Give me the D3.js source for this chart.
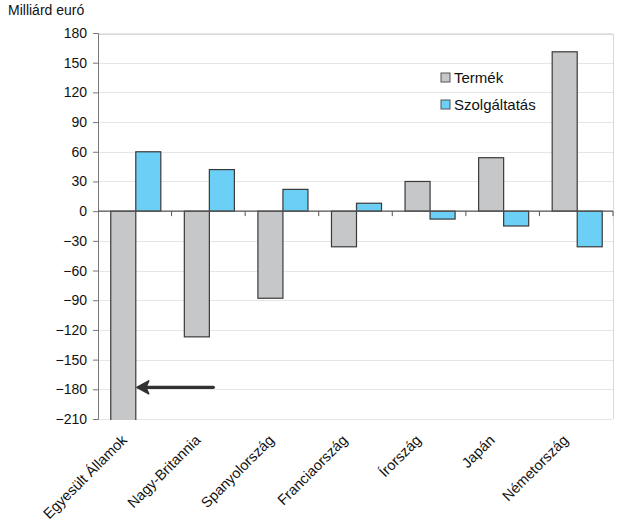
<!DOCTYPE html>
<html><head><meta charset="utf-8">
<script src="https://cdn.jsdelivr.net/npm/d3@7"></script>
<style>body{margin:0;background:#fff;} svg{display:block;font-family:"Liberation Sans",Arial,sans-serif;}</style>
</head><body>
<script>
const categories = ["Egyesült Államok","Nagy-Britannia","Spanyolország","Franciaország","Írország","Japán","Németország"];
const termek = [-240, -127, -88, -36, 30, 54, 161];
const szolg = [60, 42, 22, 8, -8, -15, -36];
const seriesNames = ["Termék","Szolgáltatás"];
const yTicks = [180,150,120,90,60,30,0,-30,-60,-90,-120,-150,-180,-210];
const yLabel = "Milliárd euró";
const arrowValue = -178;

const W = 637, H = 526;
const m = {l: 98, r: 24, t: 33, b: 107};
const colors = ["#c6c7c9", "#6ccff6"];

const svg = d3.select("body").append("svg").attr("width", W).attr("height", H);

const x = d3.scaleBand().domain(categories).range([m.l, W - m.r]).paddingInner(0).paddingOuter(0);
const xs = d3.scaleBand().domain(seriesNames).range([0, x.bandwidth()]).paddingInner(0).paddingOuter(0.47);
const y = d3.scaleLinear().domain([-210, 180]).range([H - m.b, m.t]);

// plot border (top/right)
svg.append("path")
  .attr("d", `M${m.l},${m.t + 1.5}H${W - m.r + 0.5}V${H - m.b}`)
  .attr("fill", "none").attr("stroke", "#d9d9d9").attr("stroke-width", 1);

// gridlines
svg.append("g").selectAll("line").data(yTicks).join("line")
  .attr("x1", m.l).attr("x2", W - m.r)
  .attr("y1", d => Math.round(y(d)) + 0.5).attr("y2", d => Math.round(y(d)) + 0.5)
  .attr("stroke", "#e6e6e6").attr("stroke-width", 1);

// clip
svg.append("clipPath").attr("id", "plotclip").append("rect")
  .attr("x", m.l).attr("y", m.t).attr("width", W - m.r - m.l).attr("height", H - m.b - m.t + 1);

const data = categories.map((c, i) => ({c, vals: [termek[i], szolg[i]]}));
const g = svg.append("g").attr("clip-path", "url(#plotclip)");
data.forEach(d => {
  d.vals.forEach((v, j) => {
    const bx = x(d.c) + xs(seriesNames[j]) + 1;
    g.append("rect")
      .attr("x", bx).attr("width", xs.bandwidth())
      .attr("y", y(Math.max(0, v))).attr("height", Math.abs(y(v) - y(0)))
      .attr("fill", colors[j]).attr("stroke", "#3a3a3a").attr("stroke-width", 1.2);
  });
});

// y axis
const yAxis = d3.axisLeft(y).tickValues(yTicks).tickSize(5).tickPadding(6);
const ya = svg.append("g").attr("transform", `translate(${m.l},0)`).call(yAxis);
ya.select(".domain").attr("stroke", "#777");
ya.selectAll(".tick line").attr("stroke", "#777");
ya.selectAll("text").attr("font-size", 14).attr("fill", "#111").attr("font-family", "'Liberation Sans',Arial,sans-serif");

// zero line with category ticks
const x0 = svg.append("g").attr("transform", `translate(0,${y(0)})`);
x0.append("line").attr("x1", m.l).attr("x2", W - m.r).attr("stroke", "#555").attr("stroke-width", 1.2);
x0.selectAll(".ct").data(categories).join("line")
  .attr("x1", d => x(d) + x.bandwidth()).attr("x2", d => x(d) + x.bandwidth())
  .attr("y1", 0).attr("y2", 5).attr("stroke", "#555");

// x labels
svg.append("g").selectAll("text").data(categories).join("text")
  .attr("transform", d => `translate(${x(d) + x.bandwidth() / 2 - 7},${H - m.b + 22}) rotate(-45)`)
  .attr("text-anchor", "end").attr("font-size", 14.5).attr("fill", "#111")
  .text(d => d);

// y label
svg.append("text").attr("x", 8).attr("y", 15).attr("font-size", 14).attr("fill", "#111").text(yLabel);

// legend
const lg = svg.append("g").attr("transform", "translate(441,73)");
seriesNames.forEach((s, j) => {
  const r = lg.append("g").attr("transform", `translate(0,${j * 27})`);
  r.append("rect").attr("x", 0).attr("y", 0).attr("width", 9).attr("height", 9)
    .attr("fill", colors[j]).attr("stroke", "#555").attr("stroke-width", 1);
  r.append("text").attr("x", 13).attr("y", 10).attr("font-size", 15).attr("fill", "#111").text(s);
});

// arrow
const ax1 = x(categories[0]) + xs(seriesNames[1]) + 2;
const ax2 = x(categories[1]) + x.bandwidth() / 2 + 5;
const ay = y(arrowValue);
svg.append("line").attr("x1", ax1 + 6).attr("x2", ax2).attr("y1", ay).attr("y2", ay)
  .attr("stroke", "#333").attr("stroke-width", 3.2).attr("stroke-linecap", "round");
svg.append("path")
  .attr("d", `M${ax1},${ay}L${ax1 + 12},${ay - 6.5}L${ax1 + 9},${ay}L${ax1 + 12},${ay + 6.5}Z`)
  .attr("fill", "#333").attr("stroke", "#333").attr("stroke-width", 1.5).attr("stroke-linejoin", "round");
</script>
</body></html>
